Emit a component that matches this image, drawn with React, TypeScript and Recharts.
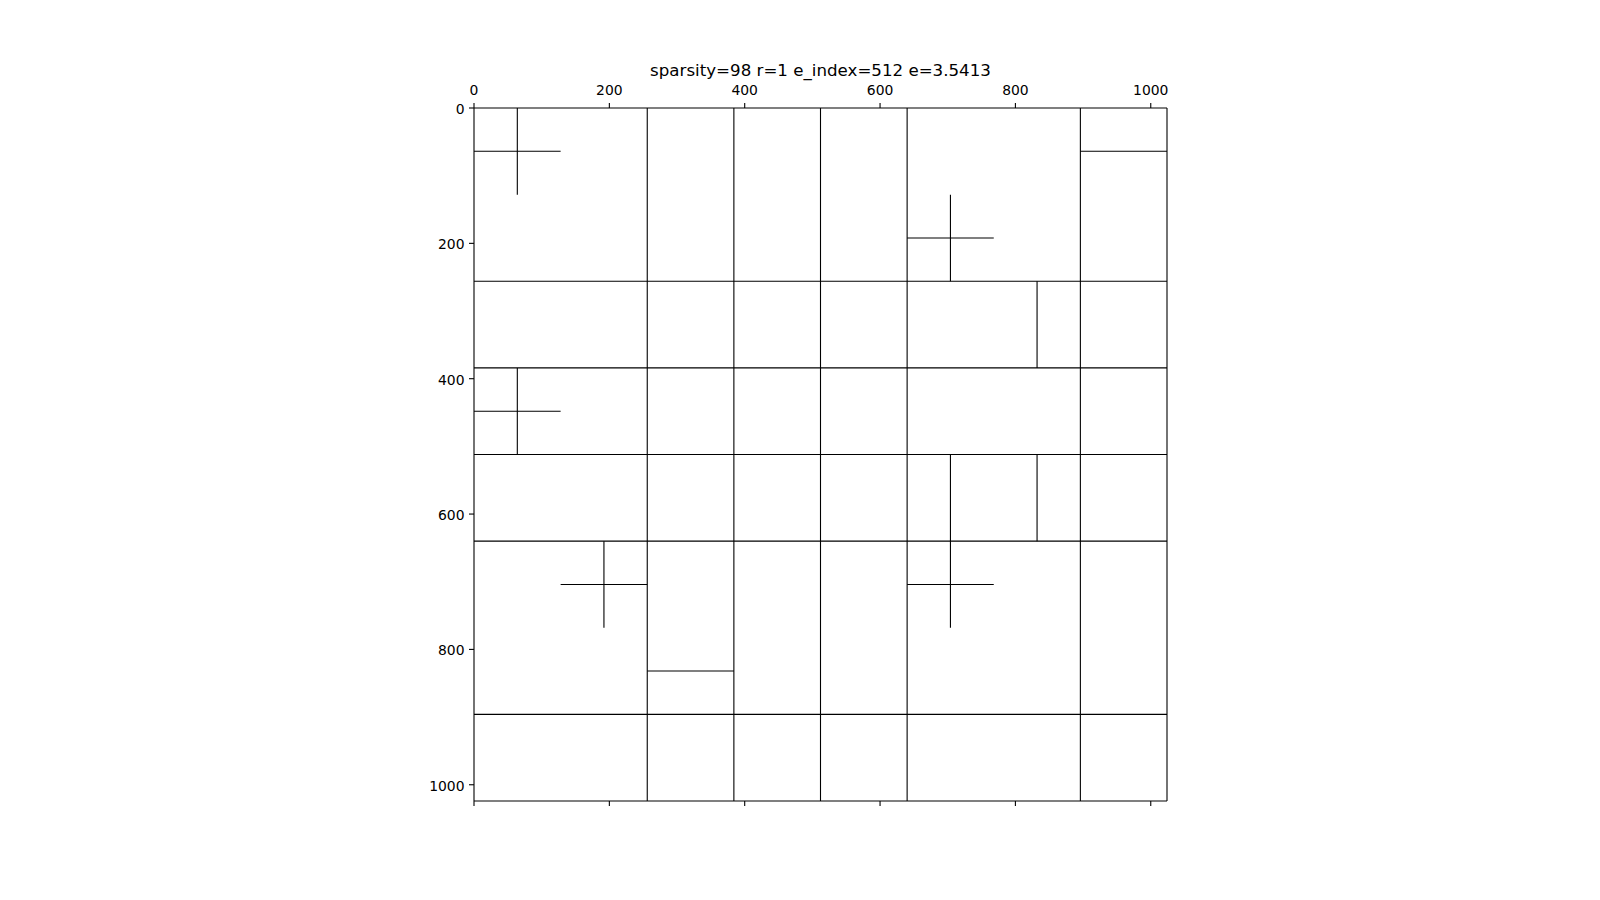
import React from "react";
import { ComposedChart, Scatter, XAxis, YAxis } from "recharts";

const AXIS_MAX = 1024;
const tickValues = [0, 200, 400, 600, 800, 1000];

// lines crossing the whole matrix
const fullColumns = [256, 384, 512, 640, 896];
const fullRows = [256, 384, 512, 640, 896];

// [x, yStart, yEnd]
const shortColumns = [
  [64, 0, 128],
  [704, 128, 256],
  [832, 256, 384],
  [64, 384, 512],
  [704, 512, 768],
  [832, 512, 640],
  [192, 640, 768],
];

// [y, xStart, xEnd]
const shortRows = [
  [64, 0, 128],
  [64, 896, 1024],
  [192, 640, 768],
  [448, 0, 128],
  [704, 128, 256],
  [704, 640, 768],
  [832, 256, 384],
];

const title = "sparsity=98 r=1 e_index=512 e=3.5413";

type Pt = { x: number; y: number };

const segments: Pt[][] = [
  ...fullColumns.map((x) => [
    { x, y: 0 },
    { x, y: AXIS_MAX },
  ]),
  ...fullRows.map((y) => [
    { x: 0, y },
    { x: AXIS_MAX, y },
  ]),
  ...shortColumns.map(([x, y0, y1]) => [
    { x, y: y0 },
    { x, y: y1 },
  ]),
  ...shortRows.map(([y, x0, x1]) => [
    { x: x0, y },
    { x: x1, y },
  ]),
];

const FONT = "'DejaVu Sans', sans-serif";
const tickStyle = { fill: "#000", fontSize: 13.9, fontFamily: FONT };
const yTickStyle = { ...tickStyle, dy: 1 };
const Nothing = () => <g />;

export default function App() {
  return (
    <div style={{ position: "absolute", left: 0, top: 0, width: 1600, height: 900, background: "#fff" }}>
      <div
        style={{
          position: "absolute",
          left: 474,
          width: 693,
          top: 61,
          textAlign: "center",
          fontFamily: FONT,
          fontSize: 16.67,
          lineHeight: "19px",
          color: "#000",
        }}
      >
        {title}
      </div>
      <ComposedChart
        width={1600}
        height={900}
        margin={{ top: 78, right: 432, bottom: 79, left: 414 }}
      >
        <XAxis
          xAxisId="top"
          orientation="top"
          type="number"
          dataKey="x"
          domain={[0, AXIS_MAX]}
          ticks={tickValues}
          allowDataOverflow
          height={30}
          tickSize={5}
          tickMargin={8}
          tick={tickStyle}
          stroke="#000"
          axisLine={{ stroke: "#000", strokeWidth: 1.1 }}
          tickLine={{ stroke: "#000", strokeWidth: 1.1 }}
        />
        <XAxis
          xAxisId="bottom"
          orientation="bottom"
          type="number"
          dataKey="x"
          domain={[0, AXIS_MAX]}
          ticks={tickValues}
          allowDataOverflow
          height={20}
          tickSize={5}
          tickFormatter={() => ""}
          tick={tickStyle}
          stroke="#000"
          axisLine={{ stroke: "#000", strokeWidth: 1.1 }}
          tickLine={{ stroke: "#000", strokeWidth: 1.1 }}
        />
        <YAxis
          yAxisId="left"
          type="number"
          dataKey="y"
          domain={[0, AXIS_MAX]}
          ticks={tickValues}
          reversed
          allowDataOverflow
          width={60}
          tickSize={5}
          tickMargin={4.5}
          tick={yTickStyle}
          stroke="#000"
          axisLine={{ stroke: "#000", strokeWidth: 1.1 }}
          tickLine={{ stroke: "#000", strokeWidth: 1.1 }}
        />
        <YAxis
          yAxisId="right"
          orientation="right"
          type="number"
          domain={[0, AXIS_MAX]}
          reversed
          width={1}
          tick={false}
          tickLine={false}
          axisLine={{ stroke: "#000", strokeWidth: 1.1 }}
        />
        {segments.map((seg, i) => (
          <Scatter
            key={i}
            data={seg}
            xAxisId="top"
            yAxisId="left"
            shape={Nothing}
            line={{ stroke: "#000", strokeWidth: 1.1 }}
            isAnimationActive={false}
          />
        ))}
      </ComposedChart>
    </div>
  );
}
